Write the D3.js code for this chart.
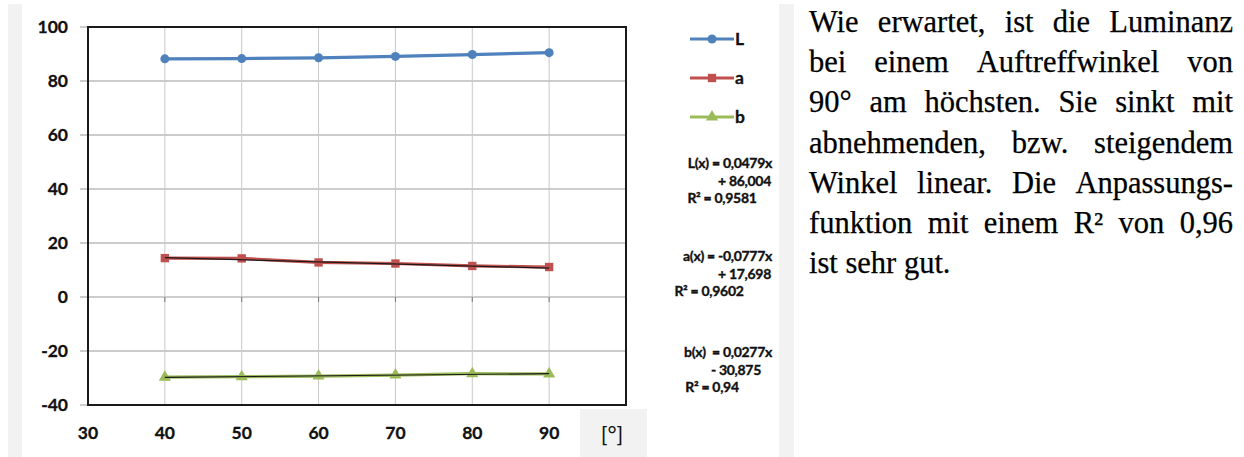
<!DOCTYPE html>
<html>
<head>
<meta charset="utf-8">
<script src="https://cdn.jsdelivr.net/npm/d3@7"></script>
<style>
  html, body { margin: 0; padding: 0; background: #fff; }
  svg { display: block; }
  .para text {
    font-family: 'Liberation Serif', 'Times New Roman', serif;
    font-size: 30.5px;
    stroke: #000;
    stroke-width: 0.25px;
  }
</style>
</head>
<body>
<svg id="chart" width="1244" height="457"></svg>
<script>
  'use strict';

  // Auftreffwinkel [°]
  var angles = [40, 50, 60, 70, 80, 90];

  // measured L*a*b* values per angle
  var seriesL = [88.2, 88.3, 88.6, 89.1, 89.8, 90.5];
  var seriesA = [14.4, 14.3, 12.8, 12.4, 11.5, 11.1];
  var seriesB = [-29.7, -29.5, -29.3, -28.9, -28.4, -28.5];

  // linear fits (slope, intercept), from the chart annotations
  var fitA = [-0.0777, 17.698];
  var fitB = [0.0277, -30.875];

  var xTicks = [30, 40, 50, 60, 70, 80, 90];
  var yTicks = [-40, -20, 0, 20, 40, 60, 80, 100];

  var legendLabels = ['L', 'a', 'b'];

  var eqL = ['L(x) = 0,0479x', '+ 86,004', 'R\u00b2 = 0,9581'];
  var eqA = ['a(x) = -0,0777x', '+ 17,698', 'R\u00b2 = 0,9602'];
  var eqB = ['b(x)\u00a0 = 0,0277x', '- 30,875', 'R\u00b2 = 0,94'];

  var paragraph = [
    'Wie erwartet, ist die Luminanz',
    'bei einem Auftreffwinkel von',
    '90\u00b0 am h\u00f6chsten. Sie sinkt mit',
    'abnehmenden, bzw. steigendem',
    'Winkel linear. Die Anpassungs-',
    'funktion mit einem R\u00b2 von 0,96',
    'ist sehr gut.'
  ];

  var colors = { L: '#4f81bd', a: '#c0504d', b: '#9bbb59' };
  var labelFont = 'Lato, "Open Sans", sans-serif';

  var svg = d3.select('#chart');

  // gray page strips from the document layout
  svg.append('rect').attr('x', 8).attr('y', 4).attr('width', 14).attr('height', 453).attr('fill', '#f2f2f2');
  svg.append('rect').attr('x', 779).attr('y', 4).attr('width', 15).attr('height', 453).attr('fill', '#f2f2f2');
  svg.append('rect').attr('x', 580).attr('y', 409).attr('width', 67).attr('height', 48).attr('fill', '#f2f2f2');

  var x = d3.scaleLinear().domain([30, 100]).range([88, 626]);
  var y = d3.scaleLinear().domain([-40, 100]).range([405, 27]);

  var g = svg.append('g');

  // horizontal grid with small left ticks
  g.selectAll('.hgrid')
    .data(yTicks)
    .enter()
    .append('line')
    .attr('class', 'hgrid')
    .attr('x1', x(30) - 8)
    .attr('x2', x(100))
    .attr('y1', function (d) { return y(d); })
    .attr('y2', function (d) { return y(d); })
    .attr('stroke', '#9a9a9a')
    .attr('stroke-width', 1);

  // vertical grid
  g.selectAll('.vgrid')
    .data(xTicks.slice(1))
    .enter()
    .append('line')
    .attr('class', 'vgrid')
    .attr('x1', function (d) { return x(d); })
    .attr('x2', function (d) { return x(d); })
    .attr('y1', y(100))
    .attr('y2', y(-40))
    .attr('stroke', '#c8c8c8')
    .attr('stroke-width', 1);

  // little ticks where the category axis crosses at 0
  g.selectAll('.zerotick')
    .data(xTicks.slice(1))
    .enter()
    .append('line')
    .attr('x1', function (d) { return x(d); })
    .attr('x2', function (d) { return x(d); })
    .attr('y1', y(0))
    .attr('y2', y(0) + 5)
    .attr('stroke', '#777')
    .attr('stroke-width', 1);

  // plot frame
  g.append('rect')
    .attr('x', x(30))
    .attr('y', y(100))
    .attr('width', x(100) - x(30))
    .attr('height', y(-40) - y(100))
    .attr('fill', 'none')
    .attr('stroke', '#1a1a1a')
    .attr('stroke-width', 2);

  // tick labels
  g.selectAll('.ylab')
    .data(yTicks)
    .enter()
    .append('text')
    .attr('x', 68)
    .attr('y', function (d) { return y(d); })
    .attr('dy', '0.36em')
    .attr('text-anchor', 'end')
    .style('font-family', labelFont)
    .style('font-weight', 700)
    .style('font-size', '17.5px')
    .attr('fill', '#111')
    .attr('stroke', '#111')
    .attr('stroke-width', 0.3)
    .text(function (d) { return d; });

  g.selectAll('.xlab')
    .data(xTicks)
    .enter()
    .append('text')
    .attr('x', function (d) { return x(d); })
    .attr('y', 433)
    .attr('dy', '0.36em')
    .attr('text-anchor', 'middle')
    .style('font-family', labelFont)
    .style('font-weight', 700)
    .style('font-size', '17.5px')
    .attr('fill', '#111')
    .attr('stroke', '#111')
    .attr('stroke-width', 0.3)
    .text(function (d) { return d; });

  svg.append('text')
    .attr('x', 612)
    .attr('y', 434)
    .attr('dy', '0.36em')
    .attr('text-anchor', 'middle')
    .style('font-family', labelFont)
    .style('font-size', '22px')
    .attr('fill', '#111')
    .text('[\u00b0]');

  var line = d3.line()
    .x(function (d) { return x(d[0]); })
    .y(function (d) { return y(d[1]); });

  function pairs(vals) {
    return angles.map(function (a, i) { return [a, vals[i]]; });
  }

  var symbols = { L: d3.symbolCircle, a: d3.symbolSquare, b: d3.symbolTriangle };
  var symSize = { L: 64, a: 70, b: 64 };

  function drawSeries(key, vals) {
    var data = pairs(vals);
    g.append('path')
      .datum(data)
      .attr('d', line)
      .attr('fill', 'none')
      .attr('stroke', colors[key])
      .attr('stroke-width', 3.2)
      .attr('stroke-linejoin', 'round');

    g.selectAll('.m' + key)
      .data(data)
      .enter()
      .append('path')
      .attr('transform', function (d) { return 'translate(' + x(d[0]) + ',' + y(d[1]) + ')'; })
      .attr('d', d3.symbol().type(symbols[key]).size(symSize[key]))
      .attr('fill', colors[key]);
  }

  drawSeries('L', seriesL);
  drawSeries('a', seriesA);
  drawSeries('b', seriesB);

  // trend lines
  [fitA, fitB].forEach(function (f) {
    var ends = [angles[0], angles[angles.length - 1]].map(function (a) {
      return [a, f[0] * a + f[1]];
    });
    g.append('path')
      .datum(ends)
      .attr('d', line)
      .attr('stroke', '#1a1a1a')
      .attr('stroke-width', 1.2)
      .attr('fill', 'none');
  });

  // legend
  var legend = svg.append('g');
  var legendY = [39, 78, 117];
  ['L', 'a', 'b'].forEach(function (key, i) {
    var row = legend.append('g').attr('transform', 'translate(0,' + legendY[i] + ')');
    row.append('line')
      .attr('x1', 690).attr('x2', 734)
      .attr('stroke', colors[key])
      .attr('stroke-width', 3.2);
    row.append('path')
      .attr('transform', 'translate(712,0)')
      .attr('d', d3.symbol().type(symbols[key]).size(symSize[key]))
      .attr('fill', colors[key]);
    row.append('text')
      .attr('x', 735)
      .attr('dy', '0.36em')
      .style('font-family', labelFont)
      .style('font-weight', 700)
      .style('font-size', '17.5px')
      .attr('fill', '#111')
      .attr('stroke', '#111')
      .attr('stroke-width', 0.3)
      .text(legendLabels[i]);
  });

  // trend line equations
  function drawEquation(lines, pos) {
    lines.forEach(function (t, i) {
      svg.append('text')
        .attr('x', pos[i][0])
        .attr('y', pos[i][1])
        .attr('dy', '0.36em')
        .attr('text-anchor', i < 2 ? 'end' : 'middle')
        .style('font-family', labelFont)
        .style('font-weight', 700)
        .style('font-size', '14px')
        .style('letter-spacing', '-0.3px')
        .attr('fill', '#111')
        .attr('stroke', '#111')
        .attr('stroke-width', 0.35)
        .text(t);
    });
  }

  drawEquation(eqL, [[772, 163], [771, 180.5], [722, 198]]);
  drawEquation(eqA, [[772, 256], [771, 273.5], [709, 291]]);
  drawEquation(eqB, [[772, 352], [761, 369.5], [712, 387]]);

  // justified paragraph on the right
  var textLeft = 809;
  var textRight = 1233;
  var para = svg.append('g')
    .attr('class', 'para')
    .attr('fill', '#000');

  paragraph.forEach(function (ln, i) {
    var baseY = 32 + i * 40.2;
    if (i === paragraph.length - 1) {
      para.append('text').attr('x', textLeft).attr('y', baseY).text(ln);
      return;
    }
    var words = ln.split(' ');
    var nodes = words.map(function (w) {
      return para.append('text').attr('y', baseY).text(w);
    });
    var widths = nodes.map(function (n) { return n.node().getComputedTextLength(); });
    var gap = (textRight - textLeft - d3.sum(widths)) / (words.length - 1);
    var cx = textLeft;
    nodes.forEach(function (n, k) {
      n.attr('x', cx);
      cx += widths[k] + gap;
    });
  });
</script>
</body>
</html>
